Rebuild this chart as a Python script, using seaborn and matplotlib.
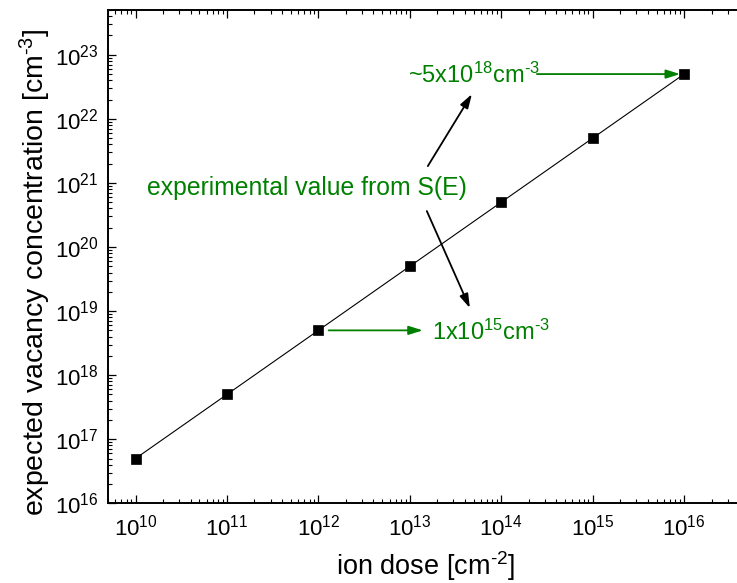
import numpy as np
import pandas as pd
import matplotlib
matplotlib.use("Agg")
import matplotlib.pyplot as plt
import seaborn as sns

# ion dose [cm^-2] and the expected vacancy concentration [cm^-3]
dose = [1e10, 1e11, 1e12, 1e13, 1e14, 1e15, 1e16]
vacancy = [5e16, 5e17, 5e18, 5e19, 5e20, 5e21, 5e22]

df = pd.DataFrame({"dose": dose, "vacancy": vacancy})

sns.set_theme(style="ticks")
plt.rcParams["font.family"] = ["Liberation Sans", "DejaVu Sans"]
plt.rcParams["mathtext.fontset"] = "custom"
plt.rcParams["mathtext.rm"] = "Liberation Sans"
plt.rcParams["mathtext.it"] = "Liberation Sans:italic"
plt.rcParams["mathtext.bf"] = "Liberation Sans:bold"
plt.rcParams["text.color"] = "black"
plt.rcParams["axes.labelcolor"] = "black"

W, H = 737, 583
fig = plt.figure(figsize=(W / 100, H / 100), dpi=100)
ax_w = 748 - 108
ax_h = 503.3 - 10
ax = fig.add_axes([108 / W, 1 - 503.3 / H, ax_w / W, ax_h / H])

sns.lineplot(data=df, x="dose", y="vacancy", ax=ax, color="black",
             linewidth=0.8, marker="s", markersize=7.5, markeredgewidth=0.5,
             markeredgecolor="black", markerfacecolor="black")

ax.set_xscale("log")
ax.set_yscale("log")
ax.set_xlim(5e9, 5e16)
ax.set_ylim(1e16, 5e23)

# decade ticks that fall inside the visible ranges
x_decades = 10.0 ** np.arange(10, 17)
y_decades = 10.0 ** np.arange(16, 24)
ax.xaxis.set_major_locator(matplotlib.ticker.FixedLocator(x_decades))
ax.yaxis.set_major_locator(matplotlib.ticker.FixedLocator(y_decades))
ax.xaxis.set_major_formatter(matplotlib.ticker.LogFormatterSciNotation())
ax.yaxis.set_major_formatter(matplotlib.ticker.LogFormatterSciNotation())
ax.xaxis.set_minor_locator(matplotlib.ticker.LogLocator(base=10, subs=np.arange(2, 10), numticks=20))
ax.yaxis.set_minor_locator(matplotlib.ticker.LogLocator(base=10, subs=np.arange(2, 10), numticks=20))
ax.xaxis.set_minor_formatter(matplotlib.ticker.NullFormatter())
ax.yaxis.set_minor_formatter(matplotlib.ticker.NullFormatter())

ax.tick_params(which="both", direction="in", top=True, right=False,
               color="black", labelcolor="black")
ax.tick_params(which="major", length=6, width=0.9, labelsize=16)
ax.tick_params(axis="x", which="major", pad=8)
ax.tick_params(axis="y", which="major", pad=7)
ax.tick_params(which="minor", length=3, width=0.8)

for side in ("left", "bottom", "top"):
    ax.spines[side].set_linewidth(1.4)
    ax.spines[side].set_color("black")
ax.spines["right"].set_visible(False)

HY = "\u2010"
ax.set_xlabel(f"ion dose [cm$^{{{HY}2}}$]", fontsize=19.5, color="black")
ax.set_ylabel(f"expected vacancy concentration [cm$^{{{HY}3}}$]", fontsize=20.5, color="black")
ax.xaxis.set_label_coords((426 - 108) / ax_w, (503.3 - 575) / ax_h)
ax.xaxis.label.set_va("baseline")
ax.yaxis.set_label_coords((35 - 108) / ax_w, (503.3 - 272) / ax_h)
ax.yaxis.label.set_va("center")

green = "#008000"

ax.text(10 ** 10.131, 10 ** 20.81, "experimental value from S(E)",
        color=green, fontsize=17.8, ha="left", va="baseline")
ax.text(10 ** 12.978, 10 ** 22.558, f"~5x10$^{{18}}$cm$^{{{HY}3}}$",
        color=green, fontsize=17, ha="left", va="baseline")
ax.text(10 ** 13.241, 10 ** 18.548, f"1x10$^{{15}}$cm$^{{{HY}3}}$",
        color=green, fontsize=17, ha="left", va="baseline")

green_arrow = dict(arrowstyle="-|>,head_length=0.7,head_width=0.22",
                   color=green, lw=1.3, shrinkA=0, shrinkB=0)
black_arrow = dict(arrowstyle="-|>,head_length=0.7,head_width=0.22",
                   color="black", lw=1.3, shrinkA=0, shrinkB=0)

ax.annotate("", xy=(10 ** 15.956, 5e22), xytext=(10 ** 14.39, 5e22),
            arrowprops=green_arrow)
ax.annotate("", xy=(10 ** 13.142, 5e18), xytext=(10 ** 12.113, 5e18),
            arrowprops=green_arrow)
ax.annotate("", xy=(10 ** 13.679, 10 ** 22.386), xytext=(10 ** 13.197, 10 ** 21.263),
            arrowprops=black_arrow)
ax.annotate("", xy=(10 ** 13.657, 10 ** 19.047), xytext=(10 ** 13.186, 10 ** 20.561),
            arrowprops=black_arrow)

fig.savefig("out.png", dpi=100)
